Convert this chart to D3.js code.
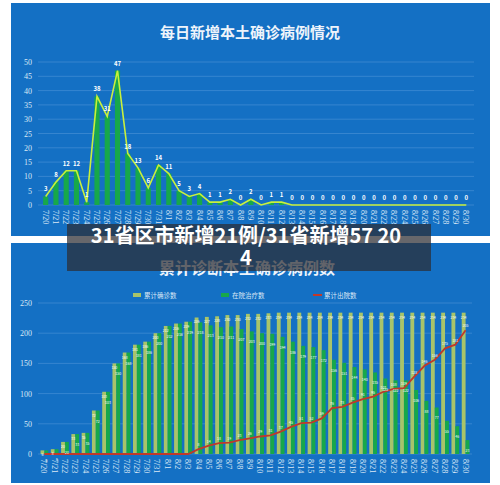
<!DOCTYPE html>
<html><head><meta charset="utf-8">
<script src="https://cdn.jsdelivr.net/npm/d3@7"></script>
<style>
body{margin:0;background:#fff;font-family:"Noto Sans CJK SC","Noto Sans",sans-serif;}
</style></head>
<body><svg id="chart" width="500" height="485"></svg>
<script>
// dates 7/20 .. 8/30
const dates = ["7/20","7/21","7/22","7/23","7/24","7/25","7/26","7/27","7/28","7/29","7/30","7/31",
  "8/1","8/2","8/3","8/4","8/5","8/6","8/7","8/8","8/9","8/10","8/11","8/12","8/13","8/14","8/15",
  "8/16","8/17","8/18","8/19","8/20","8/21","8/22","8/23","8/24","8/25","8/26","8/27","8/28","8/29","8/30"];
const dailyNew = [3,8,12,12,1,38,31,47,18,13,6,14,11,5,3,4,1,1,2,0,2,0,1,1,0,0,0,0,0,0,0,0,0,0,0,0,0,0,0,0,0,0];
const cumConfirmed = [6,8,20,33,35,72,103,150,168,181,186,200,212,216,219,226,227,228,230,230,232,232,233,234,234,234,234,234,234,234,234,234,234,234,234,234,234,234,234,234,234,234];
const inHospital = [6,8,20,33,35,72,103,150,168,181,186,200,212,216,219,218,213,210,211,207,203,200,199,194,186,179,177,172,156,151,144,140,135,125,122,122,106,88,77,55,46,23];
const discharged = [0,0,0,0,0,0,0,0,0,0,0,0,0,0,0,8,14,18,19,23,26,29,31,37,45,51,52,59,76,78,85,91,95,103,108,109,128,146,156,175,181,205];
const legendNames = ["累计确诊数","在院治疗数","累计出院数"];

const svg = d3.select("#chart");
const blue = "#1470c4", green = "#17a84a", olive = "#a8c46a";

// panels
svg.append("rect").attr("x",11).attr("y",3).attr("width",479).attr("height",233).attr("fill",blue);
svg.append("rect").attr("x",11).attr("y",243).attr("width",479).attr("height",240).attr("fill",blue);

svg.append("text").attr("x",250).attr("y",38).attr("text-anchor","middle")
  .attr("fill","#eef4fb").attr("font-size",15).attr("font-weight","bold").text("每日新增本土确诊病例情况");
svg.append("text").attr("x",247).attr("y",274).attr("text-anchor","middle")
  .attr("fill","#eef4fb").attr("font-size",16).attr("font-weight","bold").text("累计诊断本土确诊病例数");

const axisFont = "Liberation Serif";

// ---- top chart
const x1 = d3.scaleBand().domain(dates).range([38,474]).padding(0.5);
const y1 = d3.scaleLinear().domain([0,50]).range([205,62]);
const g1 = svg.append("g");
y1.ticks(10).forEach(t=>{
  g1.append("line").attr("x1",38).attr("x2",474).attr("y1",y1(t)).attr("y2",y1(t))
    .attr("stroke","#4d93d6").attr("stroke-width",0.6);
  g1.append("text").attr("x",32).attr("y",y1(t)+3).attr("text-anchor","end")
    .attr("fill","#dbe8f6").attr("font-size",8).attr("font-family",axisFont).text(t);
});
g1.selectAll(".bar").data(dailyNew).join("rect")
  .attr("x",(d,i)=>x1(dates[i])).attr("width",x1.bandwidth())
  .attr("y",d=>y1(d)).attr("height",d=>y1(0)-y1(d)).attr("fill",green);
const line1 = d3.line().x((d,i)=>x1(dates[i])+x1.bandwidth()/2).y(d=>y1(d));
g1.append("path").datum(dailyNew).attr("d",line1).attr("fill","none").attr("stroke","#c8f03c").attr("stroke-width",1.6);
g1.selectAll(".lbl").data(dailyNew).join("text")
  .attr("x",(d,i)=>x1(dates[i])+x1.bandwidth()/2).attr("y",d=>y1(d)-5)
  .attr("text-anchor","middle").attr("fill","#fff").attr("font-size",6).attr("font-weight","bold").text(d=>d);
dates.forEach(d=>{
  g1.append("text").attr("transform",`translate(${x1(d)+x1.bandwidth()/2-3},210) rotate(90)`)
    .attr("fill","#dbe8f6").attr("font-size",8).attr("font-family",axisFont).text(d);
});

// ---- bottom chart
const x2 = d3.scaleBand().domain(dates).range([38,472]).padding(0.25);
const y2 = d3.scaleLinear().domain([0,250]).range([454,303]);
const g2 = svg.append("g");
y2.ticks(5).forEach(t=>{
  g2.append("line").attr("x1",38).attr("x2",472).attr("y1",y2(t)).attr("y2",y2(t))
    .attr("stroke","#4d93d6").attr("stroke-width",0.6);
  g2.append("text").attr("x",32).attr("y",y2(t)+3).attr("text-anchor","end")
    .attr("fill","#dbe8f6").attr("font-size",8).attr("font-family",axisFont).text(t);
});
const bw = x2.bandwidth()/2;
g2.selectAll(".c").data(cumConfirmed).join("rect")
  .attr("x",(d,i)=>x2(dates[i])).attr("width",bw)
  .attr("y",d=>y2(d)).attr("height",d=>y2(0)-y2(d)).attr("fill",olive);
g2.selectAll(".h").data(inHospital).join("rect")
  .attr("x",(d,i)=>x2(dates[i])+bw).attr("width",bw)
  .attr("y",d=>y2(d)).attr("height",d=>y2(0)-y2(d)).attr("fill",green);
const line2 = d3.line().x((d,i)=>x2(dates[i])+x2.bandwidth()/2).y(d=>y2(d));
g2.append("path").datum(discharged).attr("d",line2).attr("fill","none").attr("stroke","#c0392b").attr("stroke-width",1.8);
g2.selectAll(".lc").data(cumConfirmed).join("text")
  .attr("x",(d,i)=>x2(dates[i])+bw/2).attr("y",d=>y2(d)+6)
  .attr("text-anchor","middle").attr("fill","#fff").attr("font-size",3.5).text(d=>d);
g2.selectAll(".lh").data(inHospital).join("text")
  .attr("x",(d,i)=>x2(dates[i])+bw*1.5).attr("y",d=>y2(d)+12)
  .attr("text-anchor","middle").attr("fill","#fff").attr("font-size",3.5).text(d=>d);
g2.selectAll(".ld").data(discharged).join("text")
  .attr("x",(d,i)=>x2(dates[i])+x2.bandwidth()/2).attr("y",d=>y2(d)-3)
  .attr("text-anchor","middle").attr("fill","#fff").attr("font-size",3.5).text(d=>d>0?d:"");
dates.forEach(d=>{
  g2.append("text").attr("transform",`translate(${x2(d)+x2.bandwidth()/2-3},459) rotate(90)`)
    .attr("fill","#dbe8f6").attr("font-size",8).attr("font-family",axisFont).text(d);
});

// legend
const lx = [133,221,313];
legendNames.forEach((n,i)=>{
  if(i<2) g2.append("rect").attr("x",lx[i]).attr("y",293).attr("width",8).attr("height",4).attr("fill",i==0?olive:green);
  else g2.append("line").attr("x1",lx[i]).attr("x2",lx[i]+9).attr("y1",295).attr("y2",295).attr("stroke","#c0392b").attr("stroke-width",2);
  g2.append("text").attr("x",lx[i]+11).attr("y",298).attr("fill","#dbe8f6").attr("font-size",6.5).text(n);
});

// overlay caption
svg.append("rect").attr("x",67).attr("y",224).attr("width",364).attr("height",47).attr("fill","rgba(45,45,50,0.72)");
svg.append("text").attr("x",246).attr("y",243).attr("text-anchor","middle").attr("fill","#fff")
  .attr("font-size",20).attr("font-weight","bold").text("31省区市新增21例/31省新增57 20");
svg.append("text").attr("x",246).attr("y",265).attr("text-anchor","middle").attr("fill","#fff")
  .attr("font-size",20).attr("font-weight","bold").text("4");
</script></body></html>
